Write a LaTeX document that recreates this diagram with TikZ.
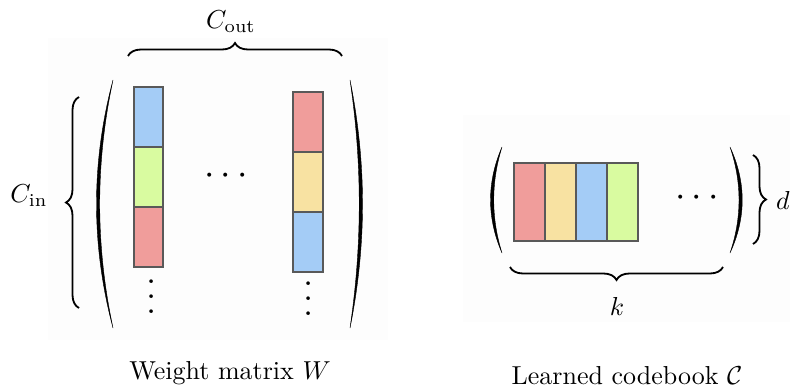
\documentclass[tikz,border=0pt]{standalone}
\usepackage{amsmath}
\usepackage{amssymb}
\usepackage{xcolor}
\usetikzlibrary{decorations.pathreplacing, calc}
\definecolor{cellblue}{HTML}{A4CCF6}
\definecolor{cellgreen}{HTML}{D9FBA0}
\definecolor{cellred}{HTML}{F09D9B}
\definecolor{cellyellow}{HTML}{F8E2A2}
\tikzstyle{cell} = [draw=black!65, line width=0.6pt]
\tikzstyle{curly} = [decorate, decoration={brace, amplitude=5pt}, line width=0.7pt]
\tikzstyle{paren} = [fill=black, draw=black, line width=0.15pt]
\newcommand{\colvdots}{\vbox{\baselineskip5.8pt\lineskiplimit0pt\hbox{.}\hbox{.}\hbox{.}}}

\begin{document}
\begin{tikzpicture}[x=0.385pt, y=-0.385pt]
\useasboundingbox (0,0) rectangle (790,388);

% Faint panels
\fill[black!0.6] (48,38) rectangle (388,340);
\fill[black!0.6] (463,115) rectangle (790,322);

% Weight matrix: first column
\draw[cell, fill=cellblue] (134,87) rectangle (163,147);
\draw[cell, fill=cellgreen] (134,147) rectangle (163,207);
\draw[cell, fill=cellred] (134,207) rectangle (163,267);

% Weight matrix: last column
\draw[cell, fill=cellred] (293,92) rectangle (323,152);
\draw[cell, fill=cellyellow] (293,152) rectangle (323,212);
\draw[cell, fill=cellblue] (293,212) rectangle (323,272);

% Dots
\node[font=\Large] (wdots) at (229,176) {$\cdots$};
\node[font=\Large] (wvdotsa) at (152,297) {\colvdots};
\node[font=\Large] (wvdotsb) at (309,299) {\colvdots};

% Parentheses of W
\fill[paren] (113,80) .. controls (91,163) and (91,245) .. (113,328)
  .. controls (95.3,245) and (95.3,163) .. (113,80) -- cycle;
\fill[paren] (350,80) .. controls (366.7,163) and (366.7,245) .. (350,328)
  .. controls (362.3,245) and (362.3,163) .. (350,80) -- cycle;

% Braces of W
\draw[curly] (128,56) -- (342,56);
\node (cout) at (231,22) {$C_{\text{out}}$};
\draw[curly] (79,308) -- (79,97);
\node (cin) at (29,196) {$C_{\text{in}}$};

\node (wlabel) at (230,373) {Weight matrix $W$};

% Codebook
\foreach \c [count=\i from 0] in {cellred,cellyellow,cellblue,cellgreen} {
    \draw[cell, fill=\c] (514+\i*31,163) rectangle (545+\i*31,241);
}
\node[font=\Large] (cdots) at (700,198) {$\cdots$};

% Parentheses of C
\fill[paren] (502,147) .. controls (486.7,182) and (486.7,218) .. (502,253)
  .. controls (491,218) and (491,182) .. (502,147) -- cycle;
\fill[paren] (730,147) .. controls (746.3,182) and (746.3,218) .. (730,253)
  .. controls (742,218) and (742,182) .. (730,147) -- cycle;

% Braces of C
\draw[curly] (753,155) -- (753,244);
\node (dlabel) at (783,200) {$d$};
\draw[curly] (723,267) -- (510,267);
\node (klabel) at (617,306) {$k$};

\node (clabel) at (627,376) {Learned codebook $\mathcal{C}$};
\end{tikzpicture}
\end{document}
